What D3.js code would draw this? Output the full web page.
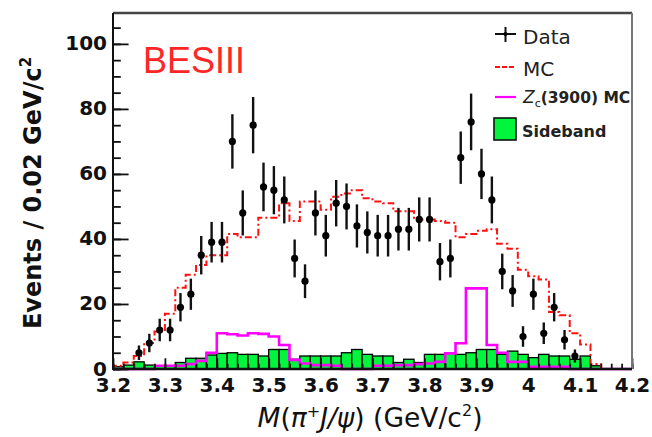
<!DOCTYPE html>
<html><head><meta charset="utf-8">
<script src="https://cdn.jsdelivr.net/npm/d3@7"></script>
<style>
  body { margin: 0; background: #fff; }
  svg { display: block; }
</style>
</head><body>
<svg id="chart" width="652" height="437"></svg>
<script>
// 50 bins of 0.02 GeV/c^2 between 3.2 and 4.2 GeV/c^2
const binLow = 3.2, binWidth = 0.02, nBins = 50;

// events per bin, data
const dataCounts = [
  0, 0, 5, 8, 12, 12, 19, 23, 35, 39,
  39, 70, 48, 75, 56, 55, 52, 34, 27, 48,
  41, 51, 50, 44, 42, 41, 41, 43, 43, 46,
  46, 33, 34, 65, 76, 60, 52, 30, 24, 10,
  23, 11, 19, 9, 4, 0, 0, 0, 0, 0
];
// total MC expectation
const mcCounts = [
  1, 2, 4, 8, 11.5, 17, 25, 29, 32, 35,
  35, 41.5, 40.5, 40.5, 46.5, 46.5, 51, 45.5, 51.5, 51.5,
  49, 53, 54, 55, 52.5, 51.5, 51, 48.5, 48.5, 46,
  46, 45.5, 45, 40.5, 41.5, 42.5, 43, 38.5, 37, 30.5,
  28.5, 27.5, 17.5, 16.5, 11, 7.5, 1.5, 0, 0, 0
];
// Zc(3900) signal MC
const zcCounts = [
  0, 0, 0, 0, 1, 1, 1, 1.5, 2.5, 5,
  11, 10.7, 10.3, 11, 10.8, 10, 7.4, 2.8, 1.7, 1.2,
  1.2, 1, 0, 0, 0, 1, 1, 1.2, 1.2, 1.5,
  1.7, 2.2, 4.8, 7.9, 24.8, 24.8, 7.4, 5, 2.2, 2.2,
  0.7, 0.7, 0.7, 0.7, 0, 0, 0, 0, 0, 0
];
// J/psi sideband background
const sidebandCounts = [
  0.7, 1.2, 2.2, 1.2, 0.9, 0.9, 2, 3.3, 3.3, 4.3,
  4.8, 5, 4.5, 4.5, 4, 6, 6, 3, 4, 4,
  4, 4, 5, 6, 4.5, 4, 4, 2, 3, 2,
  4.5, 4.5, 5, 4.5, 5, 6, 6, 4.5, 5.5, 4.5,
  3.5, 4.5, 4, 4, 3, 4, 1, 0, 0, 0
];

const xTickValues = [3.2, 3.3, 3.4, 3.5, 3.6, 3.7, 3.8, 3.9, 4.0, 4.1, 4.2];
const xTickLabels = ["3.2", "3.3", "3.4", "3.5", "3.6", "3.7", "3.8", "3.9", "4", "4.1", "4.2"];
const yTickValues = [0, 20, 40, 60, 80, 100];
const yTickLabels = ["0", "20", "40", "60", "80", "100"];

const legendLabels = ["Data", "MC", "(3900) MC", "Sideband"];

// ---------------------------------------------------------------
const svg = d3.select("#chart");
const frame = { left: 113, right: 632, top: 13, bottom: 369 };

const x = d3.scaleLinear().domain([3.2, 4.2]).range([frame.left, frame.right]);
const y = d3.scaleLinear().domain([0, 109.5]).range([frame.bottom, frame.top]);

const edges = d3.range(nBins + 1).map(i => binLow + i * binWidth);
const centers = d3.range(nBins).map(i => binLow + (i + 0.5) * binWidth);

const font = "'DejaVu Sans', sans-serif";

// sideband: filled green bins with black outline
svg.append("g").selectAll("rect")
  .data(sidebandCounts)
  .join("rect")
  .attr("x", (d, i) => x(edges[i]))
  .attr("width", (d, i) => x(edges[i + 1]) - x(edges[i]))
  .attr("y", d => y(d))
  .attr("height", d => y(0) - y(d))
  .attr("fill", "#00f53c")
  .attr("stroke", "#000")
  .attr("stroke-width", 1.3)
  .style("display", d => d > 0 ? null : "none");

// step outline helper
const stepLine = d3.line()
  .x(d => x(d[0]))
  .y(d => y(d[1]))
  .curve(d3.curveStepAfter);
function stepPoints(vals) {
  const pts = vals.map((v, i) => [edges[i], v]);
  pts.push([edges[nBins], vals[nBins - 1]]);
  return [[edges[0], 0]].concat(pts);
}

// Zc(3900) MC
svg.append("path")
  .attr("d", stepLine(stepPoints(zcCounts)))
  .attr("fill", "none")
  .attr("stroke", "#ff00ff")
  .attr("stroke-width", 2.6);

// total MC, dash-dotted red
svg.append("path")
  .attr("d", stepLine(stepPoints(mcCounts)))
  .attr("fill", "none")
  .attr("stroke", "#ff1010")
  .attr("stroke-width", 2)
  .attr("stroke-dasharray", "7,3,2,3");

// axes: ticks point inward
const xAxis = d3.axisBottom(x).tickValues(xTickValues)
  .tickFormat((d, i) => xTickLabels[i]).tickSize(-10.7).tickPadding(9);
const xMinor = d3.axisBottom(x).tickValues(d3.range(nBins + 1).map(i => binLow + i * binWidth))
  .tickFormat("").tickSize(-5.3);
const yAxis = d3.axisLeft(y).tickValues(yTickValues)
  .tickFormat((d, i) => yTickLabels[i]).tickSize(-15.6).tickPadding(6);
const yMinor = d3.axisLeft(y).tickValues(d3.range(0, 110, 5))
  .tickFormat("").tickSize(-7.8);

function styleAxis(g) {
  g.select(".domain").remove();
  g.selectAll("line").attr("stroke", "#111").attr("stroke-width", 1.8);
  g.selectAll("text").attr("fill", "#111").style("font-family", font)
    .style("font-size", "20px").style("font-weight", "bold");
}
svg.append("g").attr("transform", `translate(0,${frame.bottom})`).call(xMinor).call(styleAxis);
svg.append("g").attr("transform", `translate(0,${frame.bottom})`).call(xAxis).call(styleAxis);
svg.append("g").attr("transform", `translate(${frame.left},0)`).call(yMinor).call(styleAxis);
svg.append("g").attr("transform", `translate(${frame.left},0)`).call(yAxis).call(styleAxis)
  .selectAll("text").attr("dy", "0.3em");

// frame
svg.append("line").attr("x1", frame.left).attr("x2", frame.right).attr("y1", frame.top).attr("y2", frame.top)
  .attr("stroke", "#444").attr("stroke-width", 2.5);
svg.append("line").attr("x1", frame.right).attr("x2", frame.right).attr("y1", frame.top).attr("y2", frame.bottom)
  .attr("stroke", "#777").attr("stroke-width", 2);
svg.append("line").attr("x1", frame.left).attr("x2", frame.left).attr("y1", frame.top).attr("y2", frame.bottom + 1)
  .attr("stroke", "#111").attr("stroke-width", 2);
svg.append("line").attr("x1", frame.left).attr("x2", frame.right).attr("y1", frame.bottom).attr("y2", frame.bottom)
  .attr("stroke", "#111").attr("stroke-width", 2.4);

// data points with sqrt(N) error bars
const pts = dataCounts.map((n, i) => ({ c: centers[i], n })).filter(d => d.n > 0);
const dg = svg.append("g");
dg.selectAll("line").data(pts).join("line")
  .attr("x1", d => x(d.c)).attr("x2", d => x(d.c))
  .attr("y1", d => y(d.n + Math.sqrt(d.n))).attr("y2", d => y(Math.max(0, d.n - Math.sqrt(d.n))))
  .attr("stroke", "#111").attr("stroke-width", 2.4);
dg.selectAll("circle").data(pts).join("circle")
  .attr("cx", d => x(d.c)).attr("cy", d => y(d.n)).attr("r", 3.6).attr("fill", "#000");

// experiment label
svg.append("text").attr("x", 143).attr("y", 73)
  .style("font-family", "'Liberation Sans', Arial, sans-serif").style("font-size", "36px")
  .attr("fill", "#ff2626").text("BESIII");

// legend
const lg = svg.append("g");
lg.append("line").attr("x1", 495).attr("x2", 516).attr("y1", 34).attr("y2", 34).attr("stroke", "#111").attr("stroke-width", 2);
lg.append("line").attr("x1", 505.5).attr("x2", 505.5).attr("y1", 27).attr("y2", 42).attr("stroke", "#111").attr("stroke-width", 2);
lg.append("circle").attr("cx", 505.5).attr("cy", 34).attr("r", 2).attr("fill", "#000");
lg.append("text").attr("x", 523).attr("y", 44).style("font-family", font).style("font-size", "20px")
  .attr("fill", "#222").text(legendLabels[0]);

lg.append("line").attr("x1", 495).attr("x2", 516).attr("y1", 67).attr("y2", 67)
  .attr("stroke", "#ff1010").attr("stroke-width", 2).attr("stroke-dasharray", "5,2");
lg.append("text").attr("x", 523).attr("y", 76).style("font-family", font).style("font-size", "20px")
  .attr("fill", "#222").text(legendLabels[1]);

lg.append("line").attr("x1", 495).attr("x2", 516).attr("y1", 97).attr("y2", 97)
  .attr("stroke", "#ff00ff").attr("stroke-width", 2.2);
const zt = lg.append("text").attr("x", 523).attr("y", 103).style("font-family", font)
  .style("font-size", "15.5px").attr("fill", "#222");
zt.append("tspan").style("font-style", "italic").style("font-size", "17px").text("Z");
zt.append("tspan").attr("dy", 4).style("font-size", "11px").text("c");
zt.append("tspan").attr("dy", -4).style("font-weight", "bold").text(legendLabels[2]);

lg.append("rect").attr("x", 494).attr("y", 118).attr("width", 22).attr("height", 22)
  .attr("fill", "#00f53c").attr("stroke", "#111").attr("stroke-width", 1.6);
lg.append("text").attr("x", 522).attr("y", 137).style("font-family", font).style("font-size", "16px")
  .style("font-weight", "bold").attr("fill", "#222").text(legendLabels[3]);

// axis titles
const yt = svg.append("text")
  .attr("transform", "translate(41,193) rotate(-90)")
  .attr("text-anchor", "middle")
  .style("font-family", font).style("font-size", "24px").style("font-weight", "bold").attr("fill", "#111");
yt.append("tspan").text("Events / 0.02 GeV/c");
yt.append("tspan").attr("dy", -10).style("font-size", "15px").text("2");

const xt = svg.append("text").attr("x", 370).attr("y", 427).attr("text-anchor", "middle")
  .style("font-family", font).style("font-size", "26.5px").attr("fill", "#111");
xt.append("tspan").style("font-style", "italic").text("M");
xt.append("tspan").text("(");
xt.append("tspan").style("font-style", "italic").text("π");
xt.append("tspan").attr("dy", -10).style("font-size", "16px").text("+");
xt.append("tspan").attr("dy", 10).style("font-style", "italic").text("J/ψ");
xt.append("tspan").text(") (GeV/c");
xt.append("tspan").attr("dy", -11).style("font-size", "16px").text("2");
xt.append("tspan").attr("dy", 11).text(")");
</script>
</body></html>
